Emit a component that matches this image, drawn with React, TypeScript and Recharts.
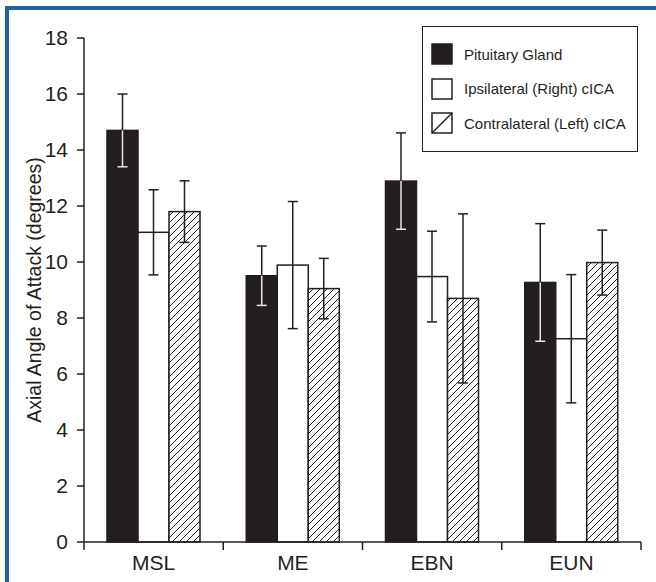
import { BarChart, Bar, XAxis, YAxis, Legend } from "recharts";

const categories = ["MSL", "ME", "EBN", "EUN"];
const pituitary = [14.7, 9.51, 12.89, 9.27];
const pituitaryErr = [1.3, 1.06, 1.72, 2.1];
const ipsilateral = [11.06, 9.89, 9.48, 7.26];
const ipsilateralErr = [1.52, 2.27, 1.62, 2.29];
const contralateral = [11.8, 9.05, 8.7, 9.98];
const contralateralErr = [1.1, 1.08, 3.02, 1.16];
const yTicks = [0, 2, 4, 6, 8, 10, 12, 14, 16, 18];

const legendItems = [
  { label: "Pituitary Gland", variant: "dark" },
  { label: "Ipsilateral (Right) cICA", variant: "light" },
  { label: "Contralateral (Left) cICA", variant: "hatch" },
];

const data = categories.map((name, i) => ({
  name,
  pit: pituitary[i],
  pitErr: pituitaryErr[i],
  ipsi: ipsilateral[i],
  ipsiErr: ipsilateralErr[i],
  contra: contralateral[i],
  contraErr: contralateralErr[i],
}));

const INK = "#231f20";
const FONT = "'Liberation Sans', Arial, Helvetica, sans-serif";

// bar + its error bar, error length scaled from the bar's own pixel height
function BarWithError(props: any) {
  const { x, y, width, height, payload, valueKey, errKey, variant } = props;
  const v = payload[valueKey];
  const k = v ? height / v : 0;
  const e = payload[errKey] * k;
  const cx = x + width / 2;
  const top = y - e;
  const bottom = y + e;
  const fill = variant === "dark" ? INK : variant === "hatch" ? "url(#hatch)" : "#fff";
  const inner = variant === "dark" ? "#e6e6e6" : INK;
  return (
    <g>
      {variant === "hatch" && (
        <defs>
          <pattern id="hatch" patternUnits="userSpaceOnUse" width={7} height={7}>
            <rect width={7} height={7} fill="#fff" />
            <path d="M-1,1 l2,-2 M0,7 l7,-7 M6,8 l2,-2" stroke={INK} strokeWidth={1} />
          </pattern>
        </defs>
      )}
      <rect x={x} y={y} width={width} height={height} fill={fill} stroke={INK} strokeWidth={1.5} />
      <line x1={cx} y1={top} x2={cx} y2={y} stroke={INK} strokeWidth={1.5} />
      <line x1={cx - 5} y1={top} x2={cx + 5} y2={top} stroke={INK} strokeWidth={1.5} />
      <line x1={cx} y1={y} x2={cx} y2={bottom} stroke={inner} strokeWidth={1.5} />
      <line x1={cx - 5} y1={bottom} x2={cx + 5} y2={bottom} stroke={inner} strokeWidth={1.5} />
    </g>
  );
}

// category label plus tick marks on the band boundaries
function CategoryTick(props: any) {
  const { x, y, payload, index, visibleTicksCount } = props;
  const half = payload.offset || 0;
  const axisY = y - 13;
  return (
    <g>
      <line x1={x - half} y1={axisY} x2={x - half} y2={axisY + 8} stroke={INK} strokeWidth={1.5} />
      {index === visibleTicksCount - 1 && (
        <line x1={x + half} y1={axisY} x2={x + half} y2={axisY + 8} stroke={INK} strokeWidth={1.5} />
      )}
      <text x={x} y={y} dy="0.71em" textAnchor="middle" fill={INK} fontSize={21} fontFamily={FONT}>
        {payload.value}
      </text>
    </g>
  );
}

function Swatch({ variant }: { variant: string }) {
  return (
    <svg width={22} height={22} style={{ display: "block" }}>
      <rect x={1} y={1} width={20} height={20} fill={variant === "dark" ? INK : "#fff"} stroke={INK} strokeWidth={1.5} />
      {variant === "hatch" && <line x1={1} y1={21} x2={21} y2={1} stroke={INK} strokeWidth={1.5} />}
    </svg>
  );
}

function LegendBox() {
  return (
    <div
      style={{
        position: "relative",
        width: 216,
        height: 126,
        border: `1.5px solid ${INK}`,
        boxSizing: "border-box",
        background: "#fff",
        fontFamily: FONT,
        fontSize: 15,
        color: INK,
      }}
    >
      {legendItems.map((it, i) => (
        <div
          key={it.label}
          style={{ position: "absolute", left: 8, top: 16 + i * 34.5, display: "flex", alignItems: "center", height: 22 }}
        >
          <Swatch variant={it.variant} />
          <span style={{ marginLeft: 11, whiteSpace: "nowrap" }}>{it.label}</span>
        </div>
      ))}
    </div>
  );
}

function YLabel(props: any) {
  const { viewBox } = props;
  const cx = viewBox.x + 34;
  const cy = viewBox.y + viewBox.height / 2;
  return (
    <text
      x={cx}
      y={cy}
      transform={`rotate(-90, ${cx}, ${cy})`}
      textAnchor="middle"
      dominantBaseline="central"
      fill={INK}
      fontSize={19.5}
      fontFamily={FONT}
    >
      Axial Angle of Attack (degrees)
    </text>
  );
}

export default function App() {
  return (
    <div style={{ position: "fixed", left: 0, top: 0, width: 656, height: 582, background: "#fff", overflow: "hidden" }}>
      <div style={{ position: "absolute", left: 5, top: 6, width: 651, height: 4, background: "#1f5ea8" }} />
      <div style={{ position: "absolute", left: 5, top: 6, width: 4, height: 576, background: "#1f5ea8" }} />
      <BarChart
        width={656}
        height={582}
        data={data}
        margin={{ top: 38, right: 15, bottom: 0, left: 0 }}
        barCategoryGap={23}
        barGap={0}
        style={{ fontFamily: FONT }}
      >
        <XAxis
          dataKey="name"
          height={40}
          axisLine={{ stroke: INK, strokeWidth: 1.5 }}
          tickLine={false}
          tickSize={0}
          tickMargin={13}
          interval={0}
          tick={<CategoryTick />}
        />
        <YAxis
          width={84}
          domain={[0, 18]}
          ticks={yTicks}
          interval={0}
          tickSize={7}
          tickMargin={9}
          axisLine={{ stroke: INK, strokeWidth: 1.5 }}
          tickLine={{ stroke: INK, strokeWidth: 1.5 }}
          tick={{ fontSize: 21, fill: INK, fontFamily: FONT }}
          label={<YLabel />}
        />
        <Legend
          layout="vertical"
          align="center"
          verticalAlign="middle"
          wrapperStyle={{ position: "absolute", left: 422, top: 26, width: 216, height: 126 }}
          content={() => <LegendBox />}
        />
        <Bar
          dataKey="pit"
          isAnimationActive={false}
          shape={(p: any) => <BarWithError {...p} valueKey="pit" errKey="pitErr" variant="dark" />}
        />
        <Bar
          dataKey="ipsi"
          isAnimationActive={false}
          shape={(p: any) => <BarWithError {...p} valueKey="ipsi" errKey="ipsiErr" variant="light" />}
        />
        <Bar
          dataKey="contra"
          isAnimationActive={false}
          shape={(p: any) => <BarWithError {...p} valueKey="contra" errKey="contraErr" variant="hatch" />}
        />
      </BarChart>
    </div>
  );
}
